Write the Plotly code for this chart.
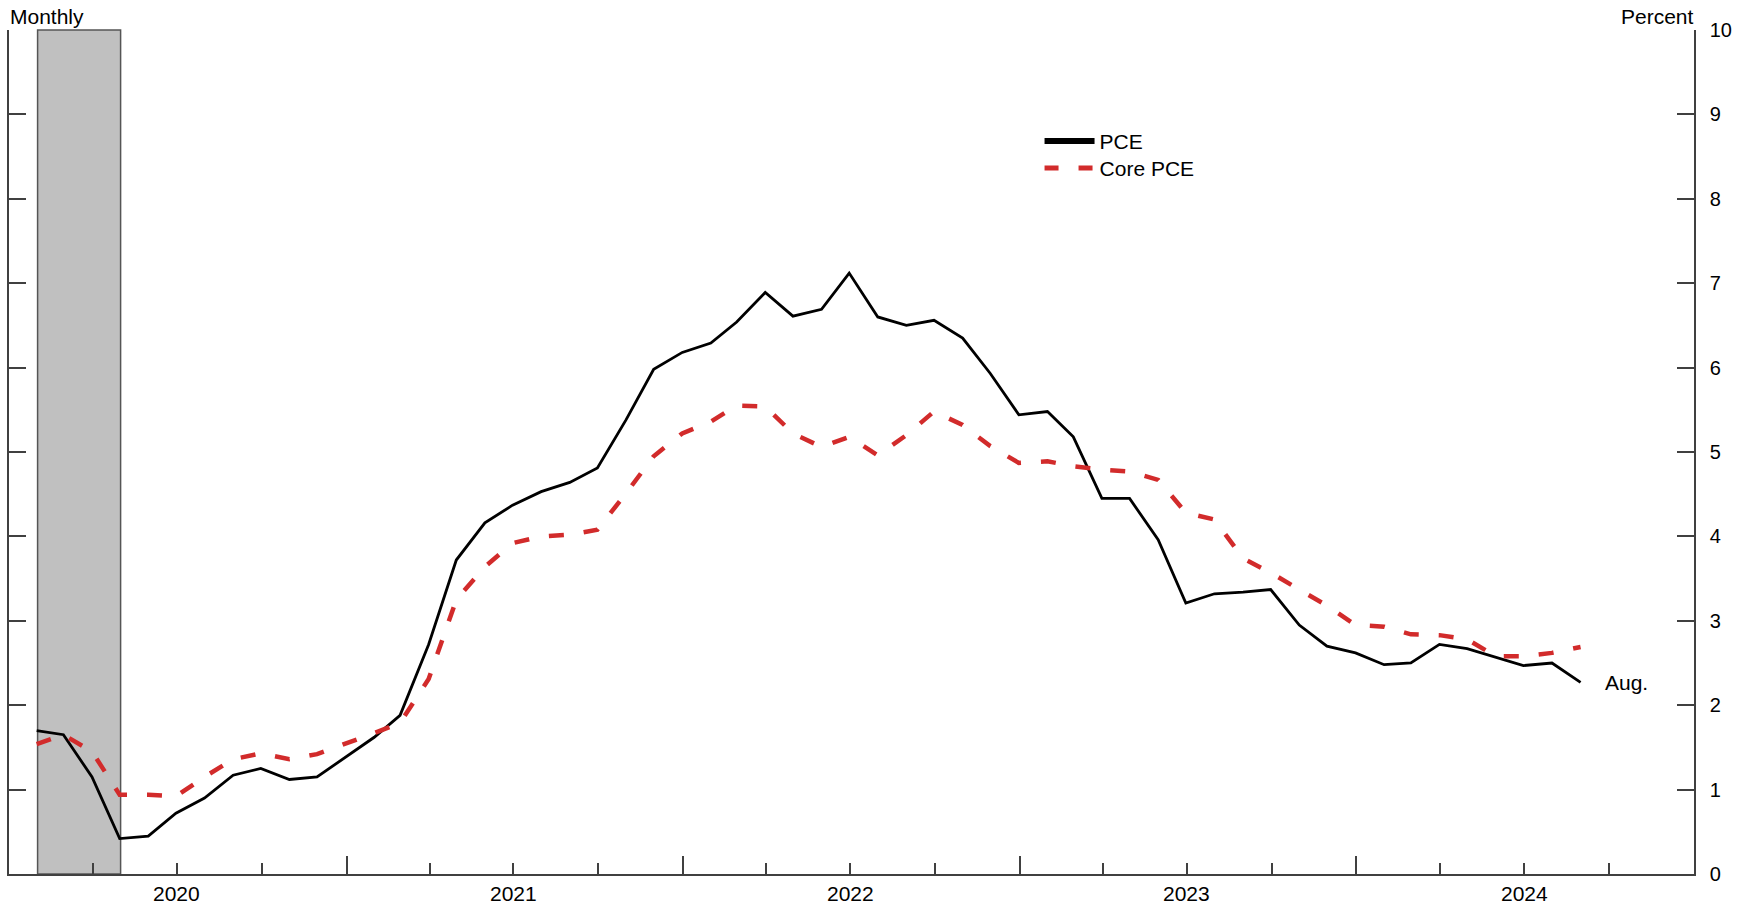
import pandas as pd
import plotly.graph_objects as go

# ---- data (12-month percent change, monthly, Jan 2020 - Aug 2024) ----
pce = [1.70, 1.65, 1.15, 0.42, 0.45, 0.72, 0.90, 1.17, 1.25, 1.12, 1.15, 1.39,
       1.62, 1.88, 2.72, 3.72, 4.16, 4.37, 4.53, 4.64, 4.81, 5.38, 5.98, 6.18,
       6.29, 6.54, 6.89, 6.61, 6.69, 7.12, 6.60, 6.50, 6.56, 6.35, 5.93, 5.44,
       5.48, 5.18, 4.45, 4.45, 3.96, 3.21, 3.32, 3.34, 3.37, 2.95, 2.70, 2.62,
       2.48, 2.50, 2.72, 2.67, 2.57, 2.47, 2.50, 2.27]
core_pce = [1.54, 1.65, 1.45, 0.94, 0.94, 0.92, 1.15, 1.36, 1.43, 1.36, 1.42, 1.54,
            1.67, 1.79, 2.31, 3.25, 3.64, 3.92, 4.00, 4.02, 4.08, 4.51, 4.95, 5.22,
            5.36, 5.55, 5.54, 5.22, 5.06, 5.18, 4.96, 5.20, 5.48, 5.32, 5.07, 4.87,
            4.89, 4.83, 4.79, 4.77, 4.67, 4.28, 4.20, 3.74, 3.57, 3.37, 3.18, 2.95,
            2.93, 2.84, 2.83, 2.78, 2.58, 2.58, 2.62, 2.69]
first_month_end = "2020-01-31"
months = pd.date_range(first_month_end, periods=len(pce), freq="ME")

recession_start = "2020-02-01"
recession_end = "2020-05-01"

x_start, x_end = "2020-01-01", "2025-01-01"
year_labels = ["2020", "2021", "2022", "2023", "2024"]
year_label_pos = [f"{y}-07-01" for y in year_labels]
year_ticks = [f"{y}-01-01" for y in ["2020", "2021", "2022", "2023", "2024", "2025"]]
last_label = "Aug."

FONT = "Liberation Sans, Arial, sans-serif"
AXIS = "#404040"
RED = "#d22b2b"

fig = go.Figure()
# data traces
fig.add_trace(go.Scatter(x=months, y=pce, mode="lines", name="PCE", showlegend=False,
                         line=dict(color="black", width=2.8)))
fig.add_trace(go.Scatter(x=months, y=core_pce, mode="lines", name="Core PCE", showlegend=False,
                         line=dict(color=RED, width=4.5, dash="15px,20px")))
# legend keys (no data, heavier key lines as in the reference)
fig.add_trace(go.Scatter(x=[None], y=[None], mode="lines", name="PCE", legend="legend",
                         line=dict(color="black", width=6)))
fig.add_trace(go.Scatter(x=[None], y=[None], mode="lines", name="Core PCE", legend="legend2",
                         line=dict(color=RED, width=5, dash="14px,20px")))

fig.add_shape(type="rect", xref="x", yref="paper", x0=recession_start, x1=recession_end,
              y0=0, y1=1, fillcolor="#c0c0c0", line=dict(color="#555555", width=1.5),
              layer="below")

for lbl, pos in zip(year_labels, year_label_pos):
    fig.add_annotation(x=pos, xref="x", y=0, yref="paper", text=lbl, showarrow=False,
                       yanchor="top", yshift=-6, font=dict(family=FONT, size=21, color="black"))

fig.add_annotation(x=months[-1], y=pce[-1], xref="x", yref="y", text=last_label,
                   showarrow=False, xanchor="left", xshift=22,
                   font=dict(family=FONT, size=21, color="black"))
fig.add_annotation(x=0, xref="paper", y=1, yref="paper", text="Monthly", showarrow=False,
                   xanchor="left", yanchor="bottom", xshift=-1, yshift=0,
                   font=dict(family=FONT, size=21, color="black"))
fig.add_annotation(x=1, xref="paper", y=1, yref="paper", text="Percent", showarrow=False,
                   xanchor="right", yanchor="bottom", xshift=2, yshift=0,
                   font=dict(family=FONT, size=21, color="black"))

legend_common = dict(xanchor="left", yanchor="top", bgcolor="rgba(0,0,0,0)", borderwidth=0,
                     itemwidth=50, font=dict(family=FONT, size=21, color="black"))

fig.update_layout(
    width=1752, height=905,
    margin=dict(l=7, r=58, t=30, b=31),
    paper_bgcolor="white", plot_bgcolor="white",
    font=dict(family=FONT, size=20, color="black"),
    showlegend=True,
    legend=dict(x=0.6116, y=0.8925, **legend_common),
    legend2=dict(x=0.6116, y=0.8605, **legend_common),
    xaxis=dict(type="date", range=[x_start, x_end], showgrid=False, zeroline=False,
               showline=True, linecolor=AXIS, linewidth=1.5, mirror=False,
               tickmode="array", tickvals=year_ticks, ticks="inside", ticklen=18,
               tickwidth=1.5, tickcolor=AXIS, showticklabels=False,
               minor=dict(ticks="inside", ticklen=11, tickwidth=1.5, tickcolor=AXIS,
                          dtick="M3", tick0="2020-01-01", showgrid=False)),
    yaxis=dict(range=[0, 10], side="right", dtick=1, tick0=0, showgrid=False,
               zeroline=False, showline=True, linecolor=AXIS, linewidth=1.5,
               mirror="ticks", ticks="inside", ticklen=17, tickwidth=1.5,
               tickcolor=AXIS, ticklabelstandoff=10,
               tickfont=dict(family=FONT, size=20, color="black")),
)

fig.write_html("out.html", config={"displayModeBar": False},
               post_script="document.body.style.margin='0';document.body.style.padding='0';")
